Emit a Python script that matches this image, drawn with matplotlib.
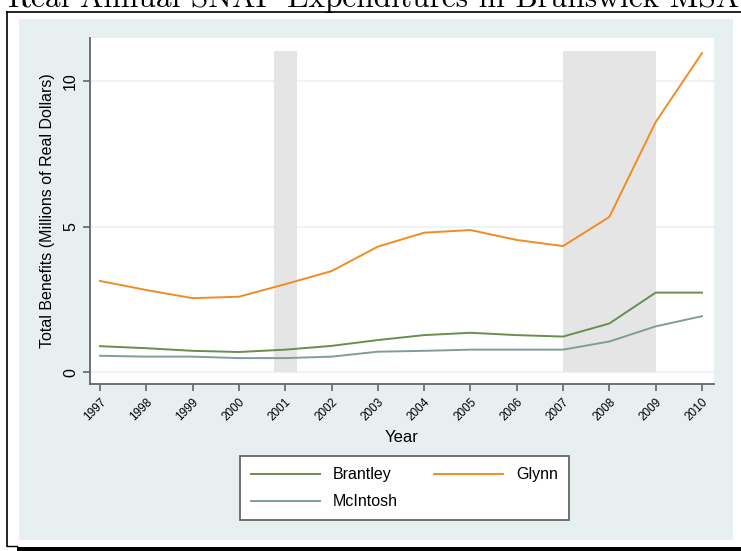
import matplotlib.pyplot as plt
from matplotlib.patches import Rectangle
from matplotlib.lines import Line2D

plt.rcParams['font.family'] = ['Liberation Sans', 'DejaVu Sans']

years = list(range(1997, 2011))
brantley = [0.90, 0.83, 0.74, 0.70, 0.78, 0.91, 1.11, 1.28, 1.36, 1.28, 1.23, 1.68, 2.74, 2.74]
glynn = [3.14, 2.83, 2.55, 2.60, 3.03, 3.48, 4.32, 4.80, 4.89, 4.55, 4.34, 5.34, 8.60, 10.97]
mcintosh = [0.57, 0.54, 0.54, 0.49, 0.49, 0.54, 0.71, 0.74, 0.78, 0.78, 0.78, 1.06, 1.58, 1.93]
recessions = [(2000.76, 2001.25), (2007.0, 2009.0)]

W, H = 741, 551
fig = plt.figure(figsize=(W / 100, H / 100), dpi=100)
fig.patch.set_facecolor('white')


def fx(px):
    return px / W


def fy(py):
    return 1 - py / H


# light panel behind the graph
fig.patches.append(Rectangle((fx(19), fy(540)), fx(733) - fx(19), fy(19) - fy(540),
                             transform=fig.transFigure, facecolor='#e8eff1', edgecolor='none', zorder=-5))

# page frame lines
fig.lines.append(Line2D([fx(7), fx(7)], [fy(12), fy(546)], transform=fig.transFigure, color='black', lw=1.2))
fig.lines.append(Line2D([fx(7), fx(741)], [fy(12), fy(12)], transform=fig.transFigure, color='black', lw=1.2))
fig.lines.append(Line2D([fx(7), fx(17)], [fy(546), fy(546)], transform=fig.transFigure, color='black', lw=1.0))
fig.patches.append(Rectangle((fx(17), 0), 1 - fx(17), fy(546.5), transform=fig.transFigure,
                             facecolor='black', edgecolor='none'))

# title, cut off at the top of the page
fig.text(fx(374), fy(7), 'Real Annual SNAP Expenditures in Brunswick MSA', ha='center', va='baseline',
         fontsize=22.6, family='cmr10')

ax = fig.add_axes([fx(90), fy(384), fx(714) - fx(90), fy(38) - fy(384)])
ax.set_zorder(5)
ax.set_facecolor('white')

for x0, x1 in recessions:
    ax.fill_between([x0, x1], 0, 11.04, color='#e5e5e5', lw=0, zorder=1)

for yv in [0, 5, 10]:
    ax.axhline(yv, color='#eaf2f3', lw=1.2, zorder=0.5)

ax.plot(years, brantley, color='#6a8e4e', lw=1.4, label='Brantley', zorder=3)
ax.plot(years, mcintosh, color='#7f9e99', lw=1.4, label='McIntosh', zorder=3)
ax.plot(years, glynn, color='#ef8d22', lw=1.4, label='Glynn', zorder=3)

ax.set_xlim(1996.784, 2010.26)
ax.set_ylim(-0.40, 11.49)

ax.set_xticks(years)
ax.set_xticklabels([str(y) for y in years], rotation=45, ha='right', rotation_mode='anchor', fontsize=8.5)
ax.set_yticks([0, 5, 10])
ax.set_yticklabels(['0', '5', '10'], rotation=90, va='center', fontsize=11.5)

for side in ['top', 'right']:
    ax.spines[side].set_visible(False)
for side in ['left', 'bottom']:
    ax.spines[side].set_color('#666666')
    ax.spines[side].set_linewidth(1.3)
ax.tick_params(axis='both', colors='#666666', length=5, width=1.2, labelcolor='black')

ax.set_xlabel('Year', fontsize=12, labelpad=5)
ax.set_ylabel('Total Benefits (Millions of Real Dollars)', fontsize=11.5, labelpad=6)

leg = ax.legend(loc='upper left', bbox_to_anchor=(fx(240), fy(456)), bbox_transform=fig.transFigure,
                ncol=2, frameon=True, fancybox=False, framealpha=1, fontsize=11.5, handlelength=4.3,
                columnspacing=2.3, borderpad=0.7, labelspacing=0.75, handletextpad=0.8,
                borderaxespad=0)
leg.get_frame().set_edgecolor('#666666')
leg.get_frame().set_linewidth(1.3)

fig.savefig('out.png', dpi=100)
